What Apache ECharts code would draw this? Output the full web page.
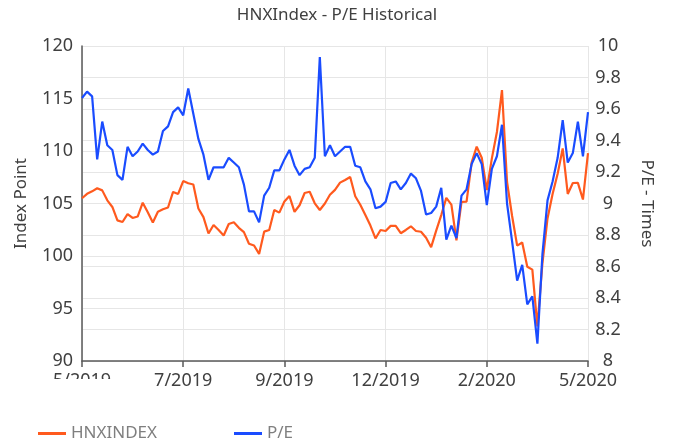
<!DOCTYPE html>
<html>
<head>
<meta charset="utf-8">
<script src="https://cdn.jsdelivr.net/npm/echarts@6/dist/echarts.min.js"></script>
<style>html,body{margin:0;padding:0;background:#fff}#c{width:674px;height:447px}</style>
</head>
<body>
<div id="c"></div>
<script>
var titleText = 'HNXIndex - P/E Historical';
var xTickLabels = ['5/2019', '7/2019', '9/2019', '12/2019', '2/2020', '5/2020'];
var pointsPerTick = 20;
var seriesNames = ['HNXINDEX', 'P/E'];
var hnx = [105.50,105.92,106.16,106.45,106.25,105.30,104.67,103.39,103.24,103.99,
103.62,103.76,105.08,104.16,103.19,104.22,104.45,104.62,106.10,105.91,
107.14,106.93,106.81,104.53,103.70,102.14,102.95,102.48,101.95,103.05,
103.21,102.68,102.27,101.17,101.00,100.20,102.32,102.48,104.38,104.13,
105.19,105.71,104.21,104.83,106.00,106.12,105.02,104.38,105.00,105.83,
106.30,106.99,107.24,107.52,105.69,104.88,103.90,102.90,101.67,102.48,
102.38,102.87,102.86,102.17,102.48,102.83,102.38,102.31,101.74,100.84,
102.42,103.90,105.53,104.90,101.50,105.15,105.18,108.90,110.41,109.36,
106.29,109.30,111.81,115.80,107.05,103.81,100.99,101.28,98.98,98.70,
93.30,99.33,103.58,105.90,107.84,110.24,105.91,106.95,106.97,105.38,
109.80];
var pe = [9.67,9.71,9.68,9.28,9.52,9.37,9.34,9.18,9.15,9.36,
9.30,9.33,9.38,9.34,9.31,9.33,9.46,9.49,9.58,9.61,
9.56,9.73,9.57,9.41,9.31,9.15,9.23,9.23,9.23,9.29,
9.26,9.23,9.12,8.95,8.95,8.88,9.05,9.10,9.21,9.21,
9.28,9.34,9.24,9.18,9.22,9.23,9.29,9.93,9.30,9.37,
9.30,9.33,9.36,9.36,9.24,9.23,9.14,9.09,8.97,8.98,
9.01,9.13,9.14,9.09,9.13,9.19,9.16,9.08,8.93,8.94,
8.98,9.10,8.77,8.86,8.78,9.05,9.09,9.25,9.32,9.25,
8.99,9.22,9.30,9.50,9.00,8.76,8.51,8.61,8.36,8.41,
8.11,8.68,9.02,9.14,9.29,9.53,9.26,9.32,9.52,9.30,
9.58];

var categories = hnx.map(function (v, i) { return String(i); });
var FONT = 'Noto Sans';
var chart = echarts.init(document.getElementById('c'), null, {renderer: 'canvas'});
chart.setOption({
  animation: false,
  textStyle: {fontFamily: FONT},
  title: {
    text: titleText, left: 'center', top: 2,
    textStyle: {fontFamily: FONT, fontSize: 17, fontWeight: 'normal', color: '#404040'}
  },
  legend: {
    left: 33, top: 420, itemWidth: 28, itemHeight: 3, itemGap: 77, icon: 'rect',
    textStyle: {fontFamily: FONT, fontSize: 17, color: '#7f7f7f'},
    data: seriesNames
  },
  grid: {left: 82, right: 86, top: 46, bottom: 86, containLabel: false},
  graphic: [{
    type: 'rect', z: 100, silent: true,
    shape: {x: 40, y: 379, width: 88, height: 24},
    style: {fill: '#ffffff'}
  }],
  xAxis: {
    type: 'category', data: categories, boundaryGap: false,
    axisLine: {lineStyle: {color: '#595959', width: 1.5}},
    axisTick: {show: true, interval: pointsPerTick - 1, length: 6, lineStyle: {color: '#595959', width: 1.5}},
    axisLabel: {
      interval: pointsPerTick - 1, margin: 11, fontSize: 18, color: '#404040',
      formatter: function (v, i) { return xTickLabels[Math.round(i / pointsPerTick)] || ''; }
    },
    splitLine: {show: true, interval: pointsPerTick - 1, lineStyle: {color: '#e6e6e6'}}
  },
  yAxis: [{
    type: 'value', min: 90, max: 120, interval: 5, position: 'left',
    name: 'Index Point', nameLocation: 'middle', nameGap: 52, nameRotate: 90,
    nameTextStyle: {fontFamily: FONT, fontSize: 17, color: '#404040'},
    axisLine: {show: true, lineStyle: {color: '#595959', width: 1.5}},
    axisTick: {show: false},
    axisLabel: {fontSize: 18, color: '#404040', margin: 9},
    splitLine: {lineStyle: {color: '#e6e6e6'}}
  }, {
    type: 'value', min: 8, max: 10, interval: 0.2, position: 'right',
    name: 'P/E - Times', nameLocation: 'middle', nameGap: 50, nameRotate: -90,
    nameTextStyle: {fontFamily: FONT, fontSize: 17, color: '#404040'},
    axisLine: {show: false}, axisTick: {show: false},
    axisLabel: {fontSize: 18, color: '#404040', margin: 20, align: 'center',
      formatter: function (v) { return String(Math.round(v * 10) / 10); }},
    splitLine: {lineStyle: {color: '#e6e6e6'}}
  }],
  series: [{
    name: seriesNames[0], type: 'line', yAxisIndex: 0, data: hnx,
    showSymbol: false, symbol: 'none', lineStyle: {color: '#FF5A1E', width: 2.2}, itemStyle: {color: '#FF5A1E'}
  }, {
    name: seriesNames[1], type: 'line', yAxisIndex: 1, data: pe,
    showSymbol: false, symbol: 'none', lineStyle: {color: '#1A4CFF', width: 2.2}, itemStyle: {color: '#1A4CFF'}
  }]
});
</script>
</body>
</html>
